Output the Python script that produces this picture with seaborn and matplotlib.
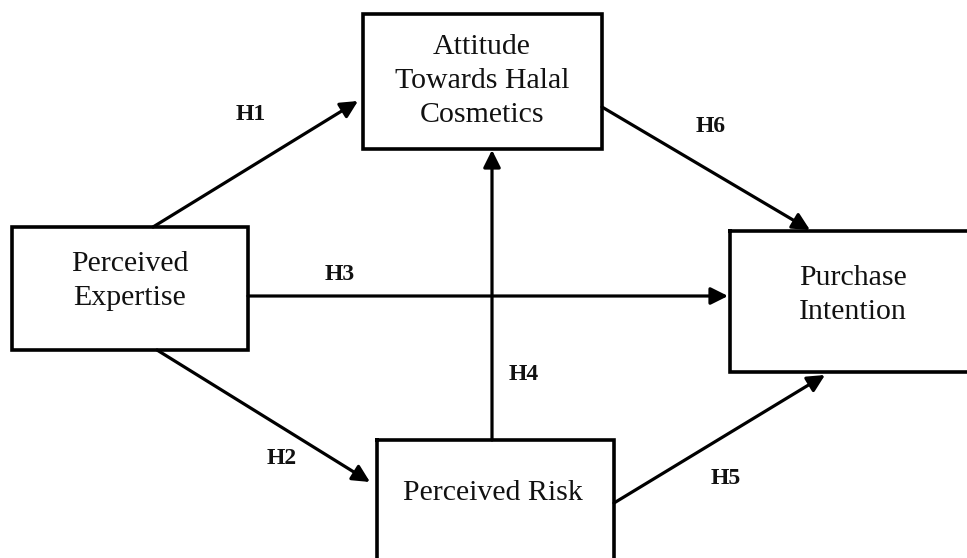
import matplotlib.pyplot as plt
import seaborn as sns
from matplotlib.patches import Rectangle

sns.set_theme(style="white")
plt.rcParams["font.family"] = ["Liberation Serif", "DejaVu Serif"]

# boxes of the research model (pixel coords of the original picture, y downwards)
box_names = ["Attitude\nTowards Halal\nCosmetics", "Perceived\nExpertise",
             "Purchase\nIntention", "Perceived Risk"]
box_left = [363, 12, 730, 377]
box_top = [14, 227, 231, 440]
box_right = [602, 248, 975, 614]
box_bottom = [149, 350, 372, 575]
text_x = [482, 130, 853, 493]
text_y = [81, 281, 295, 493]

# hypothesis paths
hyp = ["H1", "H2", "H3", "H4", "H5", "H6"]
start_x = [153, 157, 248, 492, 614, 602]
start_y = [227, 350, 296, 440, 503, 107]
end_x = [358, 370, 728, 492, 825, 810]
end_y = [101, 482, 296, 150, 375, 230]
lab_x = [251, 282, 340, 524, 726, 711]
lab_y = [114, 458, 274, 375, 478, 126]

fig = plt.figure(figsize=(9.67, 5.58), dpi=100)
ax = fig.add_axes([0, 0, 1, 1])
ax.set_xlim(0, 967)
ax.set_ylim(558, 0)
ax.axis("off")

for name, l, t, r, b, tx, ty in zip(box_names, box_left, box_top, box_right,
                                    box_bottom, text_x, text_y):
    ax.add_patch(Rectangle((l, t), r - l, b - t, fill=False, lw=2.6,
                           edgecolor="black", joinstyle="miter",
                           capstyle="projecting", clip_on=False, zorder=3))
    ax.text(tx, ty, name, ha="center", va="center", fontsize=21.5,
            linespacing=1.38, color="#111111", zorder=4)

for h, sx, sy, ex, ey, lx, ly in zip(hyp, start_x, start_y, end_x, end_y,
                                     lab_x, lab_y):
    ax.annotate("", xy=(ex, ey), xytext=(sx, sy),
                arrowprops=dict(arrowstyle="-|>", lw=2.3, color="black",
                                mutation_scale=26, shrinkA=0, shrinkB=0),
                zorder=2)
    ax.text(lx, ly, h, ha="center", va="center", fontsize=17,
            fontweight="bold", color="#111111")

fig.savefig("out.png", dpi=100)
